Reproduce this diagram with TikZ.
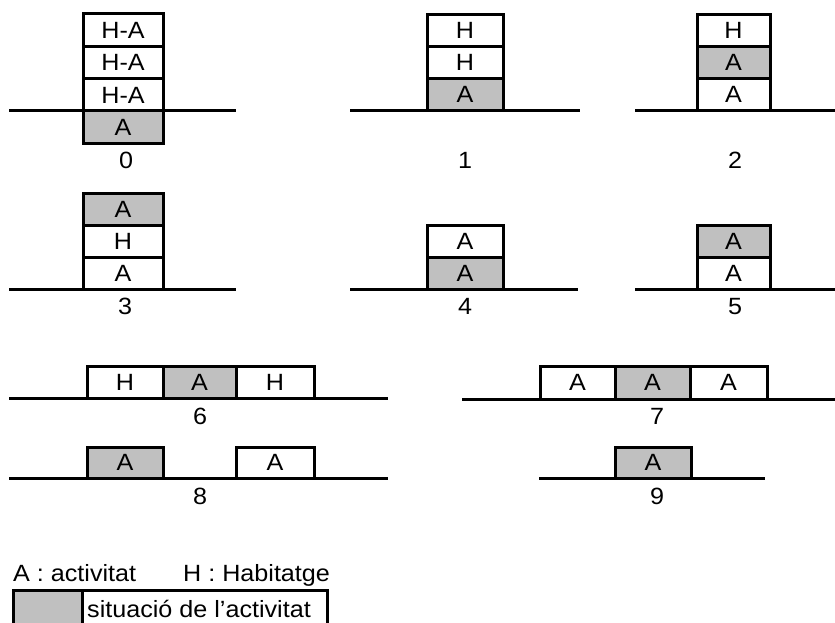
\documentclass[tikz,border=0pt]{standalone}
\usepackage{fontspec}
\setmainfont{Liberation Sans}[FakeStretch=1.07]
\definecolor{act}{HTML}{C0C0C0}
\newcommand{\diagfont}{\fontsize{23.5}{23.5}\selectfont}
\begin{document}
\begin{tikzpicture}[x=1pt,y=-1pt,
  box/.style={draw=black,line width=3pt,inner sep=0pt,outer sep=0pt,
    minimum width=#1,minimum height=32pt,text height=16.8pt,text depth=0pt,
    font=\diagfont},
  box/.default=76pt,
  gbox/.style={box=#1,fill=act},
  gbox/.default=76pt,
  ground/.style={line width=3pt},
  lbl/.style={anchor=base,inner sep=0pt,font=\diagfont},
  leg/.style={anchor=base west,inner sep=0pt,font=\diagfont}]
\useasboundingbox (0,0) rectangle (835,622);
% --- 0
\draw[ground] (9,110) coordinate (g0a) -- (236,110) coordinate (g0b);
\node[box=80pt,minimum height=32.25pt] (s0a) at (123,30.1) {H-A};
\node[box=80pt,minimum height=32.25pt] (s0b) at (123,62.4) {H-A};
\node[box=80pt,minimum height=32.25pt] (s0c) at (123,94.6) {H-A};
\node[gbox=80pt,minimum height=32.25pt] (s0d) at (123,126.9) {A};
\node[lbl] (l0) at (126,168) {0};
% --- 1
\draw[ground] (350,110) coordinate (g1a) -- (580,110) coordinate (g1b);
\node[box] (s1a) at (465,30) {H};
\node[box] (s1b) at (465,62) {H};
\node[gbox] (s1c) at (465,94) {A};
\node[lbl] (l1) at (465,168) {1};
% --- 2
\draw[ground] (635,110) coordinate (g2a) -- (835,110) coordinate (g2b);
\node[box=73pt] (s2a) at (733.5,30) {H};
\node[gbox=73pt] (s2b) at (733.5,62) {A};
\node[box=73pt] (s2c) at (733.5,94) {A};
\node[lbl] (l2) at (735,168) {2};
% --- 3
\draw[ground] (9,289) coordinate (g3a) -- (236,289) coordinate (g3b);
\node[gbox=80pt] (s3a) at (123,209) {A};
\node[box=80pt] (s3b) at (123,241) {H};
\node[box=80pt] (s3c) at (123,273) {A};
\node[lbl] (l3) at (125,314) {3};
% --- 4
\draw[ground] (350,289) coordinate (g4a) -- (578,289) coordinate (g4b);
\node[box] (s4a) at (465,241) {A};
\node[gbox] (s4b) at (465,273) {A};
\node[lbl] (l4) at (465,314) {4};
% --- 5
\draw[ground] (635,289) coordinate (g5a) -- (835,289) coordinate (g5b);
\node[gbox=73pt] (s5a) at (733.5,241) {A};
\node[box=73pt] (s5b) at (733.5,273) {A};
\node[lbl] (l5) at (735,314) {5};
% --- 6
\draw[ground] (9,398) coordinate (g6a) -- (388,398) coordinate (g6b);
\node[box=76pt] (s6a) at (125,382) {H};
\node[gbox=73pt] (s6b) at (199.5,382) {A};
\node[box=78pt] (s6c) at (275,382) {H};
\node[lbl] (l6) at (200,424) {6};
% --- 7
\draw[ground] (462,399) coordinate (g7a) -- (835,399) coordinate (g7b);
\node[box=75pt,minimum height=33pt] (s7a) at (577.5,382.5) {A};
\node[gbox=75pt,minimum height=33pt] (s7b) at (652.5,382.5) {A};
\node[box=77pt,minimum height=33pt] (s7c) at (728.5,382.5) {A};
\node[lbl] (l7) at (657,424) {7};
% --- 8
\draw[ground] (9,478) coordinate (g8a) -- (388,478) coordinate (g8b);
\node[gbox=76pt,minimum height=31pt] (s8a) at (125,462.5) {A};
\node[box=78pt,minimum height=31pt] (s8b) at (275,462.5) {A};
\node[lbl] (l8) at (200,504) {8};
% --- 9
\draw[ground] (539,478) coordinate (g9a) -- (765,478) coordinate (g9b);
\node[gbox=76pt,minimum height=31pt] (s9a) at (653,462.5) {A};
\node[lbl] (l9) at (657,504) {9};
% --- legend
\node[leg] (legA) at (13,581) {A : activitat};
\node[leg] (legH) at (183,581) {H : Habitatge};
\draw[line width=3pt,fill=act] (13,590) rectangle (82,626);
\draw[line width=3pt] (82,590) -- (327,590) -- (327,626);
\node[leg] (legS) at (87,617) {situació de l’activitat};
\end{tikzpicture}
\end{document}
